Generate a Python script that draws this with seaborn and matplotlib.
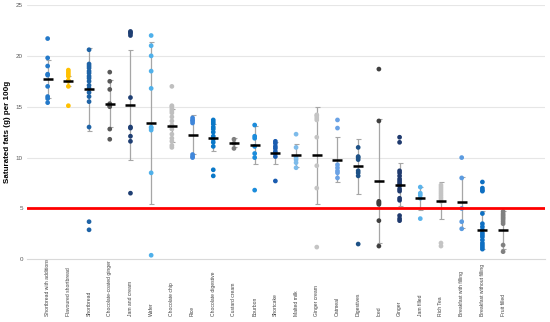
import pandas as pd
import matplotlib
matplotlib.use("Agg")
import matplotlib.pyplot as plt
import seaborn as sns

sns.set_style("white")
plt.rcParams['font.family'] = ['Liberation Sans Narrow', 'Liberation Sans', 'DejaVu Sans']

categories = ["Shortbread with additions", "Flavoured shortbread", "Shortbread",
              "Chocolate-coated ginger", "Jam and cream", "Wafer", "Chocolate chip",
              "Rice", "Chocolate digestive", "Custard cream", "Bourbon", "Shortcake",
              "Malted milk", "Ginger cream", "Oatmeal", "Digestives", "Iced", "Ginger",
              "Jam filled", "Rich Tea", "Breakfast with filling",
              "Breakfast without filling", "Fruit filled"]

# saturated fat (g/100g) of each product
sb_additions = [21.7, 19.8, 19.0, 18.2, 18.1, 17.0, 16.0, 15.8, 15.4]
flavoured_sb = [18.6, 18.4, 18.2, 18.0, 17.6, 17.5, 17.0, 15.1]
shortbread = [20.6, 19.2, 19.0, 18.8, 18.5, 18.3, 18.0, 17.8, 17.5, 17.1, 16.8,
              16.4, 16.0, 15.5, 13.0, 3.7, 2.9]
choc_ginger = [18.4, 17.5, 16.7, 15.3, 15.1, 15.0, 12.8, 11.8]
jam_cream = [22.4, 22.3, 22.2, 22.0, 15.9, 13.0, 12.9, 12.1, 11.6, 6.5]
wafer = [22.0, 21.0, 20.0, 18.5, 16.8, 13.0, 12.9, 12.7, 8.5, 0.4]
choc_chip = [17.0, 15.1, 15.0, 14.8, 14.6, 14.4, 14.0, 13.6, 13.2, 12.8, 12.3,
             11.9, 11.6, 11.2, 11.0]
rice = [13.9, 13.7, 13.6, 13.4, 10.3, 10.1, 10.0]
choc_digestive = [13.7, 13.5, 13.3, 13.0, 12.8, 12.5, 12.1, 11.8, 11.5, 11.1, 8.8, 8.2]
custard_cream = [11.8, 11.4, 10.9]
bourbon = [13.2, 12.1, 11.9, 11.1, 10.4, 10.0, 6.8]
shortcake = [11.6, 11.4, 11.1, 10.9, 10.6, 10.4, 10.1, 7.7]
malted_milk = [12.3, 11.0, 10.0, 9.8, 9.5, 9.0]
ginger_cream = [14.2, 14.1, 13.9, 13.7, 12.0, 9.2, 7.0, 1.2]
oatmeal = [13.7, 12.9, 9.3, 9.0, 8.7, 8.5, 8.0]
digestives = [11.0, 10.1, 10.0, 9.8, 8.7, 8.5, 8.2, 1.5]
iced = [18.7, 13.6, 5.7, 5.6, 5.5, 5.4, 3.8, 1.3]
ginger = [12.0, 11.5, 8.7, 8.5, 8.2, 7.9, 7.7, 7.5, 7.3, 7.2, 6.9, 6.7, 6.0, 5.8,
          4.3, 4.0, 3.8]
jam_filled = [7.1, 6.5, 6.3, 6.0, 4.0]
rich_tea = [7.3, 7.1, 6.9, 6.7, 6.5, 6.3, 6.1, 5.9, 5.7, 1.6, 1.3]
breakfast_filling = [10.0, 8.0, 5.0, 3.7, 3.0]
breakfast_no_filling = [7.6, 7.0, 6.8, 6.7, 4.5, 3.5, 3.2, 2.9, 2.6, 2.4, 2.2, 1.9,
                        1.6, 1.4, 1.2, 1.0]
fruit_filled = [4.7, 4.5, 4.35, 4.2, 4.05, 3.9, 3.7, 3.5, 1.4, 0.75]

values = [sb_additions, flavoured_sb, shortbread, choc_ginger, jam_cream, wafer,
          choc_chip, rice, choc_digestive, custard_cream, bourbon, shortcake,
          malted_milk, ginger_cream, oatmeal, digestives, iced, ginger, jam_filled,
          rich_tea, breakfast_filling, breakfast_no_filling, fruit_filled]

means = [17.73, 17.53, 16.71, 15.3, 15.13, 13.36, 13.13, 12.24, 11.97, 11.45, 11.22,
         10.43, 10.22, 10.22, 9.8, 9.13, 7.72, 7.33, 6.0, 5.78, 5.62, 2.89, 2.89]
sds = [1.9, 0.45, 4.05, 2.3, 5.4, 7.97, 1.6, 1.9, 1.35, 0.45, 1.9, 1.1, 1.1, 4.76,
       2.2, 2.7, 6.1, 2.1, 1.15, 1.8, 2.5, 1.9, 1.9]

threshold = 5

colors = ["#2479C9", "#FFC000", "#1E63A6", "#595959", "#1F3F73", "#4FB0EA", "#BFBFBF",
          "#3F86DA", "#0A78C8", "#7F7F7F", "#1C8CDB", "#1A5CB0", "#7DBBEA", "#C4C4C4",
          "#6AA2E5", "#1D5186", "#3F3F3F", "#1F3A6E", "#59B3EC", "#C4C4C4", "#5B9BE0",
          "#0E6FC2", "#808080"]

df = pd.DataFrame({
    'Biscuit': [c for c, v in zip(categories, values) for _ in v],
    'SatFat': [x for v in values for x in v],
})

fig = plt.figure(figsize=(5.5, 3.22), dpi=100)
ax = fig.add_axes([0.049, 0.1947, 0.941, 0.7898])

for y in [5, 10, 15, 20, 25]:
    ax.axhline(y, color="#E6E6E6", lw=0.8, zorder=0)

ax.errorbar(range(len(categories)), means, yerr=sds, fmt='none', ecolor="#A6A6A6",
            elinewidth=0.9, capsize=1.8, capthick=0.8, zorder=1)

sns.stripplot(data=df, x='Biscuit', y='SatFat', hue='Biscuit', order=categories,
              hue_order=categories, palette=dict(zip(categories, colors)),
              jitter=False, size=3.4, linewidth=0, legend=False, ax=ax, zorder=2)

ax.plot(range(len(categories)), means, ls='none', marker='_', color='black',
        markersize=6.5, mew=1.8, zorder=4)

ax.axhline(threshold, color="#FF0000", lw=2, zorder=3)

ax.set_xlim(-1, 24)
ax.set_ylim(0, 25)
ax.set_yticks([0, 5, 10, 15, 20, 25])
ax.tick_params(axis='y', labelsize=4.5, labelcolor="#595959", length=0, pad=3)

ax.set_xticks(range(len(categories) + 1))
ax.set_xticklabels(categories + [""])
ax.tick_params(axis='x', length=2.5, width=0.6, color="#BFBFBF", direction='out',
               labelsize=3.6, labelcolor="#404040", pad=38.5)
for lbl in ax.get_xticklabels():
    lbl.set_rotation(90)
    lbl.set_verticalalignment('bottom')
    lbl.set_horizontalalignment('center')

for side in ['left', 'right', 'top']:
    ax.spines[side].set_visible(False)
ax.spines['bottom'].set_color("#D9D9D9")
ax.spines['bottom'].set_linewidth(0.8)

ax.set_xlabel('')
ax.set_ylabel('Saturated fats (g) per 100g', fontsize=5.8, fontweight='bold',
              color='black')
ax.yaxis.set_label_coords(-0.03, 0.5)

fig.savefig('out.png', dpi=100)
